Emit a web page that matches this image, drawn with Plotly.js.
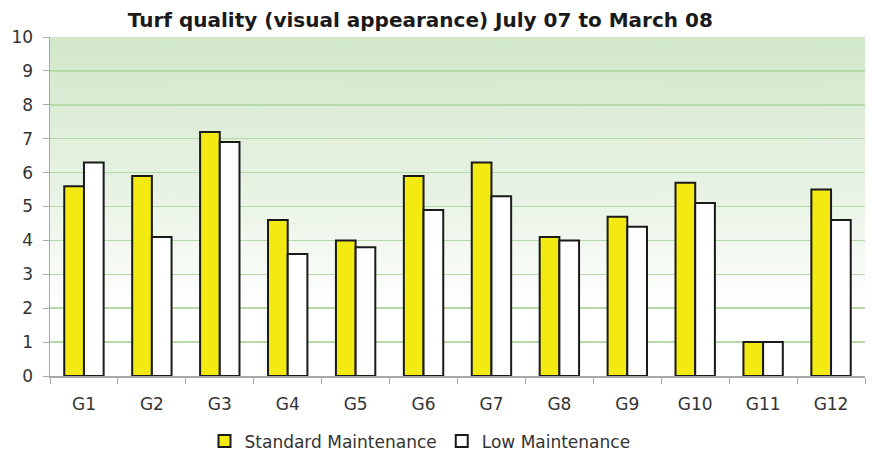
<!DOCTYPE html>
<html><head><meta charset="utf-8">
<script src="https://cdn.plot.ly/plotly-3.0.1.min.js"></script>
<style>html,body{margin:0;padding:0;background:#fff}#chart{width:872px;height:454px}</style>
</head><body><div id="chart"></div>
<script>
const categories = ['G1','G2','G3','G4','G5','G6','G7','G8','G9','G10','G11','G12'];
const standardMaintenance = [5.6, 5.9, 7.2, 4.6, 4.0, 5.9, 6.3, 4.1, 4.7, 5.7, 1.0, 5.5];
const lowMaintenance      = [6.3, 4.1, 6.9, 3.6, 3.8, 4.9, 5.3, 4.0, 4.4, 5.1, 1.0, 4.6];
const yTicks = [0,1,2,3,4,5,6,7,8,9,10];

// gradient background image
const cv = document.createElement('canvas');
cv.width = 10; cv.height = 400;
const ctx = cv.getContext('2d');
const g = ctx.createLinearGradient(0,0,0,400);
g.addColorStop(0, 'rgb(210,232,202)');
g.addColorStop(0.45, 'rgb(232,243,228)');
g.addColorStop(0.8, 'rgb(255,255,255)');
g.addColorStop(1, 'rgb(255,255,255)');
ctx.fillStyle = g; ctx.fillRect(0,0,10,400);
const bg = cv.toDataURL();

const font = 'DejaVu Sans, Verdana, sans-serif';
const traces = [
  {type:'bar', name:'Standard Maintenance', x:categories, y:standardMaintenance,
   marker:{color:'#f2ea10', line:{color:'#1a1a1a', width:2}}},
  {type:'bar', name:'Low Maintenance', x:categories, y:lowMaintenance,
   marker:{color:'#ffffff', line:{color:'#1a1a1a', width:2}}}
];
const layout = {
  width:872, height:454,
  margin:{l:50, r:7, t:37, b:78, autoexpand:false},
  paper_bgcolor:'#ffffff', plot_bgcolor:'rgba(0,0,0,0)',
  barmode:'group', bargap:0.42, bargroupgap:0,
  title:{text:'Turf quality (visual appearance) July 07 to March 08', x:0.482, xref:'container', xanchor:'center', y:0.955, yanchor:'middle', automargin:false,
         font:{family:font, size:20, color:'#1a1a1a', weight:'bold'}},
  xaxis:{tickfont:{family:font, size:17, color:'#333'}, tickangle:0, showline:true, linecolor:'#a8a8a8', linewidth:1.5,
         ticks:'outside', ticklen:6, tickcolor:'#a8a8a8', tickson:'boundaries', ticklabelstandoff:12,
         showgrid:false, fixedrange:true, automargin:false},
  yaxis:{range:[0,10], tickvals:yTicks, tickfont:{family:font, size:17, color:'#333'}, automargin:false,
         showline:true, linecolor:'#a8a8a8', linewidth:1.5, ticks:'outside', ticklen:6, tickcolor:'#a8a8a8',
         ticklabelstandoff:6,
         gridcolor:'#b5daa8', gridwidth:1.5, zeroline:false, fixedrange:true},
  legend:{orientation:'h', x:0.454, xanchor:'center', y:-0.14, yanchor:'top',
          font:{family:font, size:17, color:'#333'}, traceorder:'normal', itemwidth:30},
  images:[{source:bg, xref:'paper', yref:'paper', x:0, y:1, sizex:1, sizey:1, sizing:'stretch', layer:'below'}]
};
Plotly.newPlot('chart', traces, layout, {displayModeBar:false, staticPlot:true});
</script></body></html>
